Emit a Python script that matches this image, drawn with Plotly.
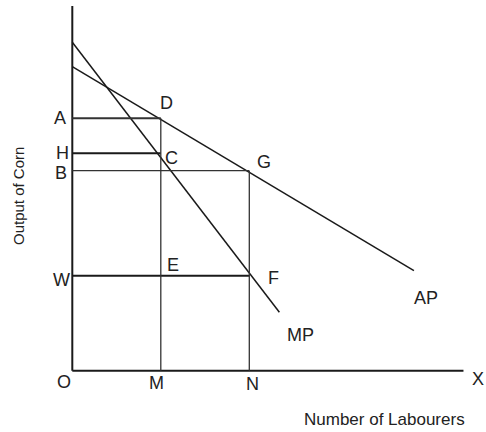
import plotly.graph_objects as go

# ---- data (economic units) ----
ap_x = [0.0, 7.72]
ap_y = [12.16, 4.0]
mp_x = [0.0, 4.68]
mp_y = [13.14, 2.34]
labour_M = 2.0
labour_N = 4.0
level_A = 10.1
level_H = 8.7
level_B = 8.0
level_W = 3.8
x_axis_end = 8.84
y_axis_end = 14.59

INK = "#1a1a1a"
GRAY = "#333333"
W_PX, H_PX = 486, 432
OFF = 0  # body margin removed via post_script
OX, OY = 72.3, 370.7  # origin in page pixels
SX, SY = 44.25, 25.0  # pixels per unit

fig = go.Figure()

def seg(xs, ys, width, color=INK):
    fig.add_trace(go.Scatter(x=xs, y=ys, mode="lines",
                             line=dict(color=color, width=width),
                             hoverinfo="skip", showlegend=False))

# axes
seg([0, 0], [0, y_axis_end], 2)
seg([0, x_axis_end], [0, 0], 2)
# curves
seg(ap_x, ap_y, 1.5)
seg(mp_x, mp_y, 1.5)
# horizontals
seg([0, labour_M], [level_A, level_A], 2, GRAY)
seg([0, labour_M], [level_H, level_H], 2, INK)
seg([0, labour_N], [level_B, level_B], 1.2, GRAY)
seg([0, labour_N], [level_W, level_W], 2, INK)
# verticals
seg([labour_M, labour_M], [0, level_A], 1.3, GRAY)
seg([labour_N, labour_N], [0, level_B], 1.3, GRAY)

font = dict(family="Liberation Sans, Arial, sans-serif", size=18, color="#222222")

labels = [
    ("O", 0, 0, -8, -11),
    ("M", labour_M, 0, -4, -12),
    ("N", labour_N, 0, 3, -13),
    ("X", x_axis_end, 0, 15, -8),
    ("A", 0, level_A, -12, 0),
    ("H", 0, level_H, -10, 0),
    ("B", 0, level_B, -11, -2),
    ("W", 0, level_W, -11, -4),
    ("D", labour_M, level_A, 6, 15),
    ("C", labour_M, level_H, 11, -5),
    ("G", labour_N, level_B, 15, 9),
    ("E", labour_M, level_W, 12, 11),
    ("F", labour_N, level_W, 24, -2),
    ("AP", ap_x[1], ap_y[1], 12, -27),
    ("MP", mp_x[1], mp_y[1], 21, -23),
]
for t, x, y, dx, dy in labels:
    fig.add_annotation(x=x, y=y, text=t, showarrow=False, xshift=dx, yshift=dy,
                       xanchor="center", yanchor="middle", font=font)

def px2paper(px, py):
    return (px - OFF) / W_PX, 1 - (py - OFF) / H_PX

nx, ny = px2paper(384, 419)
fig.add_annotation(x=nx, y=ny, xref="paper", yref="paper",
                   text="Number of Labourers", showarrow=False,
                   xanchor="center", yanchor="middle",
                   font=dict(family="Liberation Sans, Arial, sans-serif", size=17, color="#222222"))
ox_, oy_ = px2paper(18, 196)
fig.add_annotation(x=ox_, y=oy_, xref="paper", yref="paper",
                   text="Output of Corn", showarrow=False, textangle=-90,
                   xanchor="center", yanchor="middle",
                   font=dict(family="Liberation Sans, Arial, sans-serif", size=15, color="#222222"))

fig.update_layout(
    width=W_PX, height=H_PX,
    margin=dict(l=0, r=0, t=0, b=0),
    paper_bgcolor="white", plot_bgcolor="white",
    hovermode=False,
    xaxis=dict(range=[(OFF - OX) / SX, (W_PX + OFF - OX) / SX], visible=False, fixedrange=True),
    yaxis=dict(range=[(OY - (H_PX + OFF)) / SY, (OY - OFF) / SY], visible=False, fixedrange=True),
)

fig.write_html("out.html",
               config={"displayModeBar": False, "staticPlot": True},
               post_script="document.body.style.margin='0';document.body.style.overflow='hidden';")
